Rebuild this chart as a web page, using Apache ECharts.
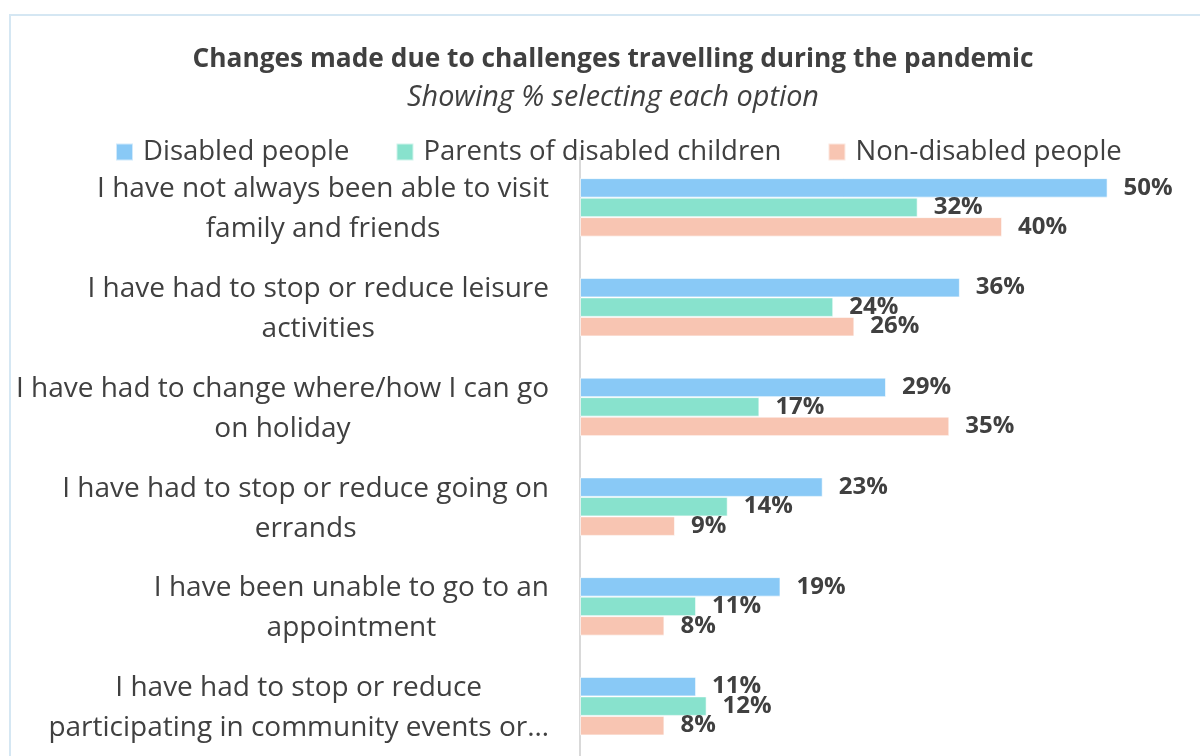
<!DOCTYPE html>
<html>
<head>
<meta charset="utf-8">
<script src="https://cdn.jsdelivr.net/npm/echarts@6/dist/echarts.min.js"></script>
<style>
  html, body { margin: 0; padding: 0; background: #ffffff; }
  #chart { width: 1200px; height: 756px; }
</style>
</head>
<body>
<div id="chart"></div>
<script>
// Survey answers: share of each group choosing each option (%)
const categories = [
  "I have not always been able to visit\nfamily and friends",
  "I have had to stop or reduce leisure\nactivities",
  "I have had to change where/how I can go\non holiday",
  "I have had to stop or reduce going on\nerrands",
  "I have been unable to go to an\nappointment",
  "I have had to stop or reduce\nparticipating in community events or\u2026"
];
const seriesNames = ["Disabled people", "Parents of disabled children", "Non-disabled people"];
const disabledPeople = [50, 36, 29, 23, 19, 11];
const parentsOfDisabledChildren = [32, 24, 17, 14, 11, 12];
const nonDisabledPeople = [40, 26, 35, 9, 8, 8];

const titleText = "Changes made due to challenges travelling during the pandemic";
const subtitleText = "Showing % selecting each option";

const FONT = "'Open Sans', 'Noto Sans', sans-serif";
const TEXT = "#404040";
const colors = ["#89C9F6", "#88E2CD", "#F8C5B2"];

const chart = echarts.init(document.getElementById('chart'), null, { renderer: 'canvas' });

function barSeries(name, values, color) {
  return {
    name: name,
    type: 'bar',
    data: values,
    barWidth: 19.5,
    barGap: '0%',
    itemStyle: { color: color, borderColor: 'rgba(255,255,255,0.6)', borderWidth: 1 },
    label: {
      show: true,
      position: 'right',
      distance: 16,
      formatter: '{c}%',
      fontFamily: FONT,
      fontWeight: 'bold',
      fontSize: 24,
      color: TEXT
    },
    emphasis: { disabled: true },
    animation: false
  };
}

chart.setOption({
  animation: false,
  color: colors,
  textStyle: { fontFamily: FONT },
  graphic: [{
    type: 'rect',
    silent: true,
    shape: { x: 10, y: 15, width: 1300, height: 900 },
    style: { fill: 'none', stroke: '#D5E7F3', lineWidth: 2 }
  }],
  title: {
    text: titleText,
    subtext: subtitleText,
    left: 613,
    textAlign: 'center',
    top: 47,
    padding: 0,
    itemGap: 10,
    textStyle: { fontFamily: FONT, fontWeight: 'bold', fontSize: 26.3, color: TEXT },
    subtextStyle: { fontFamily: FONT, fontStyle: 'italic', fontSize: 28.8, color: TEXT }
  },
  legend: {
    data: seriesNames,
    left: 110,
    top: 133,
    itemWidth: 17,
    itemHeight: 17,
    itemGap: 46,
    icon: 'rect',
    selectedMode: false,
    textStyle: { fontFamily: FONT, fontSize: 27.5, color: TEXT, padding: [0, 0, 0, 5] }
  },
  grid: {
    left: 580,
    top: 157.5,
    width: 612,
    height: 607,
    containLabel: false
  },
  xAxis: {
    type: 'value',
    min: 0,
    max: 58,
    show: false
  },
  yAxis: {
    type: 'category',
    data: categories,
    inverse: true,
    axisLine: { show: true, lineStyle: { color: '#D9D9D9', width: 2 } },
    axisTick: { show: false },
    splitLine: { show: false },
    axisLabel: {
      margin: 31,
      align: 'right',
      color: TEXT,
      fontFamily: FONT,
      fontSize: 28,
      lineHeight: 40,
      padding: [4, 0, 0, 0],
      formatter: function (value) {
        return value.split('\n').map(function (line) { return '{c|' + line + '}'; }).join('\n');
      },
      rich: {
        c: { align: 'center', fontFamily: FONT, fontSize: 28, lineHeight: 40, color: TEXT }
      }
    }
  },
  series: [
    barSeries(seriesNames[0], disabledPeople, colors[0]),
    barSeries(seriesNames[1], parentsOfDisabledChildren, colors[1]),
    barSeries(seriesNames[2], nonDisabledPeople, colors[2])
  ]
});
</script>
</body>
</html>
